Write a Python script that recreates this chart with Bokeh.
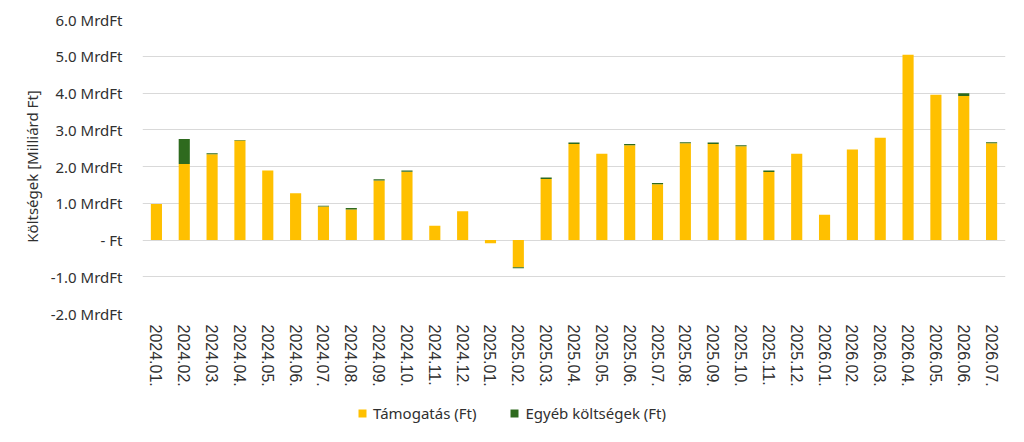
from bokeh.plotting import figure
from bokeh.models import FixedTicker, Legend, LegendItem, Range1d, ColumnDataSource
from bokeh.layouts import column
from bokeh.embed import file_html
from bokeh.resources import INLINE

months = ["2024.01.", "2024.02.", "2024.03.", "2024.04.", "2024.05.", "2024.06.",
          "2024.07.", "2024.08.", "2024.09.", "2024.10.", "2024.11.", "2024.12.",
          "2025.01.", "2025.02.", "2025.03.", "2025.04.", "2025.05.", "2025.06.",
          "2025.07.", "2025.08.", "2025.09.", "2025.10.", "2025.11.", "2025.12.",
          "2026.01.", "2026.02.", "2026.03.", "2026.04.", "2026.05.", "2026.06.",
          "2026.07."]
tamogatas = [0.98, 2.07, 2.33, 2.71, 1.89, 1.27, 0.91, 0.83, 1.62, 1.86, 0.39, 0.78,
             -0.09, -0.74, 1.66, 2.61, 2.35, 2.58, 1.52, 2.63, 2.61, 2.55, 1.85, 2.35,
             0.69, 2.46, 2.78, 5.04, 3.95, 3.92, 2.63]
egyeb = [0.0, 0.68, 0.03, 0.01, 0.0, 0.0, 0.02, 0.04, 0.03, 0.03, 0.0, 0.0,
         0.0, -0.03, 0.04, 0.04, 0.0, 0.03, 0.03, 0.03, 0.04, 0.03, 0.04, 0.0,
         0.0, 0.0, 0.0, 0.0, 0.0, 0.07, 0.03]
y_ticks = [-2, -1, 0, 1, 2, 3, 4, 5, 6]
y_tick_labels = ["-2.0 MrdFt", "-1.0 MrdFt", "- Ft", "1.0 MrdFt", "2.0 MrdFt",
                 "3.0 MrdFt", "4.0 MrdFt", "5.0 MrdFt", "6.0 MrdFt"]
series_names = ["Támogatás (Ft)", "Egyéb költségek (Ft)"]
colors = ["#FFC000", "#2E6A1E"]

source = ColumnDataSource({"month": months, "tam": tamogatas, "egy": egyeb})

p = figure(x_range=months, y_range=(-2, 6), width=1016, height=400,
           output_backend="svg", toolbar_location=None,
           min_border_left=142, min_border_right=11, min_border_top=19,
           min_border_bottom=87)

rs = p.vbar_stack(["tam", "egy"], x="month", width=0.4, source=source,
                  color=colors, line_color=None)

p.outline_line_color = None
p.background_fill_color = "white"
p.xgrid.grid_line_color = None
p.ygrid.grid_line_color = "#D9D9D9"
p.ygrid.grid_line_width = 1

ya = p.yaxis[0]
ya.ticker = FixedTicker(ticks=y_ticks)
ya.major_label_overrides = {t: l for t, l in zip(y_ticks, y_tick_labels)}
ya.axis_line_color = None
ya.major_tick_line_color = None
ya.minor_tick_line_color = None
ya.major_label_standoff = 14
ya.major_label_text_font = "Noto Sans"
ya.major_label_text_font_size = "15px"
ya.major_label_text_color = "#303030"
ya.axis_label = "Költségek [Milliárd Ft]"
ya.axis_label_text_font = "Noto Sans"
ya.axis_label_text_font_size = "15px"
ya.axis_label_text_font_style = "normal"
ya.axis_label_text_color = "#303030"
ya.axis_label_standoff = 6

xa = p.xaxis[0]
xa.axis_line_color = None
xa.major_tick_line_color = None
xa.minor_tick_line_color = None
xa.major_label_orientation = "vertical"
xa.major_label_standoff = 5
xa.major_label_text_font = "Liberation Sans"
xa.major_label_text_font_size = "16px"
xa.major_label_text_color = "#303030"

# legend strip below the chart (same series, out-of-view range: only the legend shows)
lg = figure(width=1016, height=40, output_backend="svg", toolbar_location=None,
            x_range=months, y_range=Range1d(100, 101),
            min_border=0, min_border_left=0, min_border_right=0,
            min_border_top=0, min_border_bottom=0)
lg.axis.visible = False
lg.grid.visible = False
lg.outline_line_color = None
ls = lg.vbar_stack(["tam", "egy"], x="month", width=0.4, source=source,
                   color=colors, line_color=None)

legend = Legend(items=[LegendItem(label=series_names[0], renderers=[ls[0]]),
                       LegendItem(label=series_names[1], renderers=[ls[1]])],
                orientation="horizontal", location=(215, 17),
                padding=0, margin=0, spacing=33, label_standoff=6,
                glyph_width=10, glyph_height=10,
                border_line_color=None, background_fill_alpha=0,
                label_text_font="Noto Sans", label_text_font_size="15px",
                label_text_color="#303030")
lg.add_layout(legend, "center")

layout = column(p, lg, spacing=0)
open("out.html", "w").write(file_html(layout, INLINE))
